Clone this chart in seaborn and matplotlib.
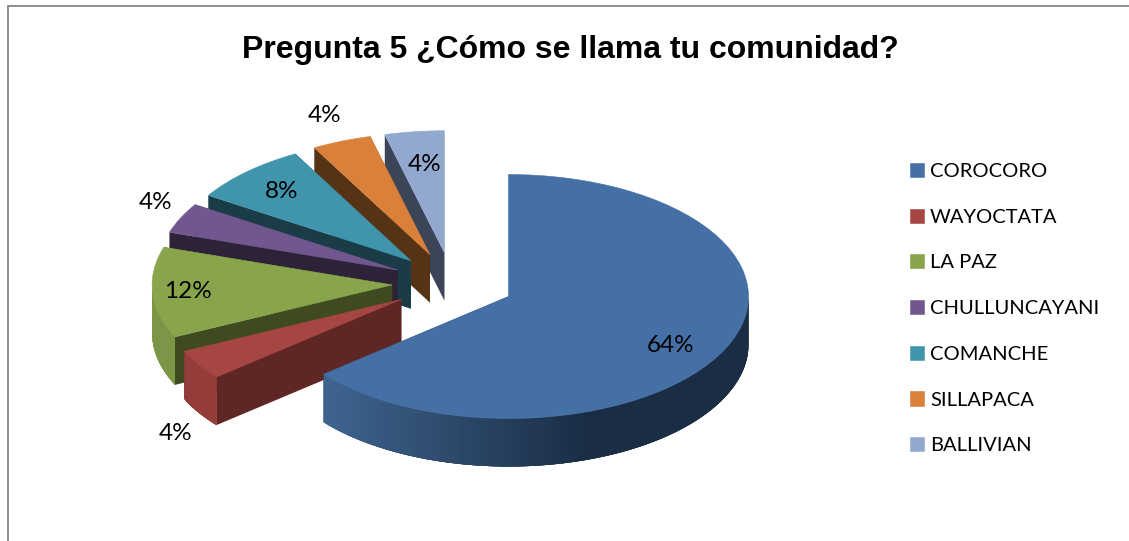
import numpy as np
import matplotlib
matplotlib.use('Agg')
import matplotlib.pyplot as plt
from matplotlib.colors import to_rgb
from matplotlib.lines import Line2D
from matplotlib.patches import Polygon
import seaborn as sns

categories = ['COROCORO', 'WAYOCTATA', 'LA PAZ', 'CHULLUNCAYANI', 'COMANCHE', 'SILLAPACA', 'BALLIVIAN']
percentages = [64, 4, 12, 4, 8, 4, 4]

top_colors = ['#4570A5', '#A54643', '#88A54B', '#71578F', '#4095AD', '#D9813B', '#92A8CF']
face_colors = ['#1A2D45', '#5E2625', '#3F4A20', '#2D2238', '#193C47', '#573316', '#3C4557']
rim_left = ['#3F6590', '#943C39', '#7A9646', '#5F4A78', '#357D91', '#B56B30', '#7A8CAD']
rim_right = ['#1A2D45', '#6E2D2B', '#6F8A3D', '#4A3A5E', '#2A6373', '#8F5526', '#5F6E88']

W, H = 1129, 541
CX, CY = 452, 283   # pie centre in pixels
RX, RY = 240, 122   # pie radii in pixels
DEPTH = 48 / RY

sns.set_theme(style='white')
plt.rcParams['font.family'] = ['Lato', 'DejaVu Sans']

fig = plt.figure(figsize=(W / 100, H / 100), dpi=100, facecolor='white')
ax = fig.add_axes([0, 0, 1, 1])

wedges, _ = ax.pie(percentages, explode=[0.26, 0.25, 0.25, 0.25, 0.25, 0.25, 0.25], colors=top_colors,
                   startangle=90, counterclock=False, radius=1,
                   wedgeprops={'linewidth': 0.4})
ax.set_aspect('auto')
ax.set_xlim(-CX / RX, (W - CX) / RX)
ax.set_ylim((CY - H) / RY, CY / RY)
ax.axis('off')


def edge_point(w, theta):
    t = np.deg2rad(theta)
    return w.center[0] + w.r * np.cos(t), w.center[1] + w.r * np.sin(t)


def add_face(points, color, z):
    ax.add_patch(Polygon(points, closed=True, facecolor=color, edgecolor='none', linewidth=0, zorder=z))


def draw_sides(i, w, z):
    cx, cy = w.center
    for theta in (w.theta1, w.theta2):
        x, y = edge_point(w, theta)
        add_face([(cx, cy), (x, y), (x, y - DEPTH), (cx, cy - DEPTH)], face_colors[i], z)

    # outer rim, cut in strips so the shading can run across it
    # each strip runs on under the next one, otherwise the seams show white
    angles = np.linspace(w.theta1, w.theta2, int(abs(w.theta2 - w.theta1)) * 2 + 2)
    left, right = np.array(to_rgb(rim_left[i])), np.array(to_rgb(rim_right[i]))
    for k in range(len(angles) - 2, -1, -1):
        a, b = angles[k], angles[k + 1]
        mid = np.deg2rad((a + b) / 2)
        if np.sin(mid) >= 0:
            continue
        frac = np.clip((np.cos(mid) + 0.8) / 1.1, 0, 1)
        color = left + (right - left) * frac
        arc = np.linspace(a, min(b + 1.5, w.theta2), 6)
        upper = [edge_point(w, t) for t in arc]
        lower = [(x, y - DEPTH) for x, y in reversed(upper)]
        add_face(upper + lower, color, z)


# back slices first, the big slice always goes on top of the rest
order = sorted(range(1, len(wedges)), key=lambda k: -wedges[k].center[1]) + [0]
for n, i in enumerate(order):
    w = wedges[i]
    draw_sides(i, w, 2 + n * 2)
    w.set_zorder(3 + n * 2)
    w.set_edgecolor(top_colors[i])

label_px = [(671, 346), (176, 434), (188, 292), (156, 202), (282, 191), (325, 116), (425, 164)]
for value, (px, py) in zip(percentages, label_px):
    fig.text(px / W, 1 - py / H, f'{value}%', ha='center', va='center',
             fontsize=17.5, color='black', zorder=50)

fig.text(570 / W, 1 - 50 / H, 'Pregunta 5 ¿Cómo se llama tu comunidad?', ha='center', va='center',
         fontsize=23, fontweight='bold', family=['Liberation Sans'], color='black')

legend_size = 14.5
legend = fig.legend(wedges, categories, loc='upper left', bbox_to_anchor=(910 / W, 1 - 163 / H),
                    frameon=False, fontsize=legend_size, labelspacing=1.42,
                    handlelength=0.7, handleheight=0.7, handletextpad=0.3, borderpad=0, borderaxespad=0)
for t in legend.get_texts():
    t.set_color('black')

# chart frame
frame = '#8C8C8C'
fig.add_artist(Line2D([7.5 / W, 7.5 / W], [0, 1 - 6 / H], color=frame, lw=1.4, transform=fig.transFigure))
fig.add_artist(Line2D([7.5 / W, 1], [1 - 6 / H, 1 - 6 / H], color=frame, lw=1.4, transform=fig.transFigure))

plt.savefig('out.png', dpi=100)
plt.close()
